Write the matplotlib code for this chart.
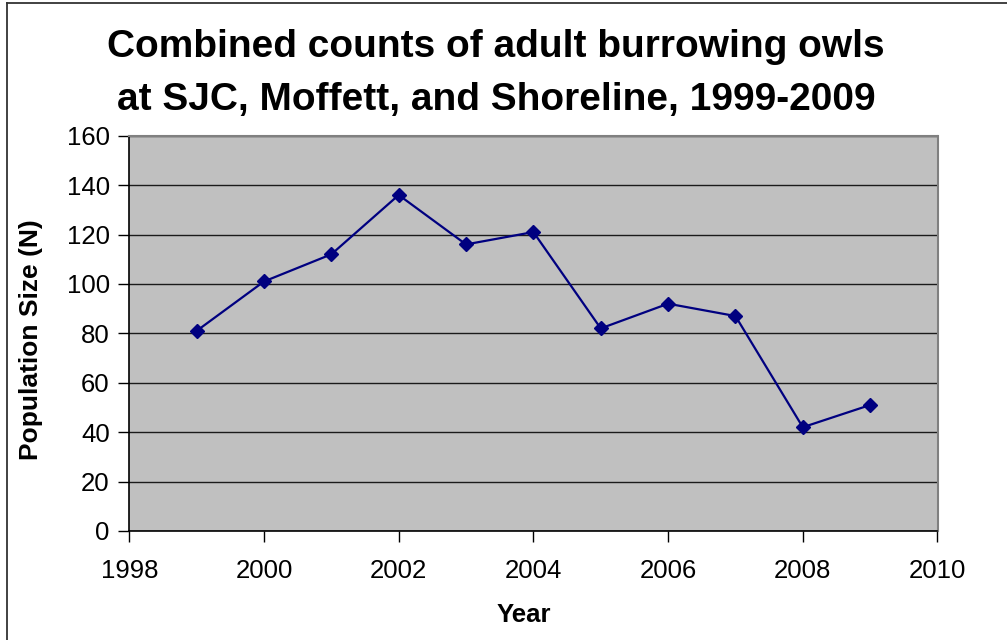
import matplotlib.pyplot as plt
from matplotlib.lines import Line2D

years = [1999, 2000, 2001, 2002, 2003, 2004, 2005, 2006, 2007, 2008, 2009]
owls = [81, 101, 112, 136, 116, 121, 82, 92, 87, 42, 51]

x_ticks = [1998, 2000, 2002, 2004, 2006, 2008, 2010]
y_ticks = [0, 20, 40, 60, 80, 100, 120, 140, 160]

title_lines = [
    "Combined counts of adult burrowing owls",
    "at SJC, Moffett, and Shoreline, 1999-2009",
]

plt.rcParams["font.family"] = ["Liberation Sans", "DejaVu Sans"]

fig = plt.figure(figsize=(10.07, 6.4), dpi=100)
W, H = 1007, 640

ax = fig.add_axes([129.3 / W, 1 - 531 / H, (937.5 - 129.3) / W, (531 - 135.7) / H])
ax.set_facecolor("#c0c0c0")

ax.plot(
    years,
    owls,
    color="#000080",
    linewidth=1.6,
    marker="D",
    markersize=7,
    markerfacecolor="#000080",
    markeredgecolor="#000080",
    zorder=3,
)

ax.set_xlim(1998, 2010)
ax.set_ylim(0, 160)
ax.set_xticks(x_ticks)
ax.set_yticks(y_ticks)
ax.set_xticklabels([str(t) for t in x_ticks])
ax.set_yticklabels([str(t) for t in y_ticks])

ax.yaxis.grid(True, color="#1a1a1a", linewidth=1.0)
ax.set_axisbelow(True)

ax.tick_params(
    axis="both",
    direction="out",
    length=8,
    width=1,
    color="black",
    labelsize=18.5,
    pad=6,
)
ax.tick_params(axis="x", pad=12)

for side in ("left", "bottom"):
    ax.spines[side].set_color("black")
    ax.spines[side].set_linewidth(1.2)
for side in ("top", "right"):
    ax.spines[side].set_color("#808080")
    ax.spines[side].set_linewidth(1.5)

# title lines set on their own baselines
for line, base in zip(title_lines, [57, 110]):
    fig.text(496 / W, 1 - base / H, line, ha="center", va="baseline",
             fontsize=28, fontweight="bold")

fig.text(524 / W, 1 - 615 / H, "Year", ha="center", va="center",
         fontsize=18.5, fontweight="bold")
fig.text(31 / W, 1 - 340 / H, "Population Size (N)", ha="center", va="center",
         rotation=90, fontsize=19, fontweight="bold")

# chart-area border along the top and left edges
fig.add_artist(Line2D([6.5 / W, 6.5 / W], [0, 1 - 2.5 / H],
                      transform=fig.transFigure, color="#333333", linewidth=1.3))
fig.add_artist(Line2D([6.5 / W, 1], [1 - 2.5 / H, 1 - 2.5 / H],
                      transform=fig.transFigure, color="#333333", linewidth=1.3))

fig.savefig("out.png", dpi=100)
